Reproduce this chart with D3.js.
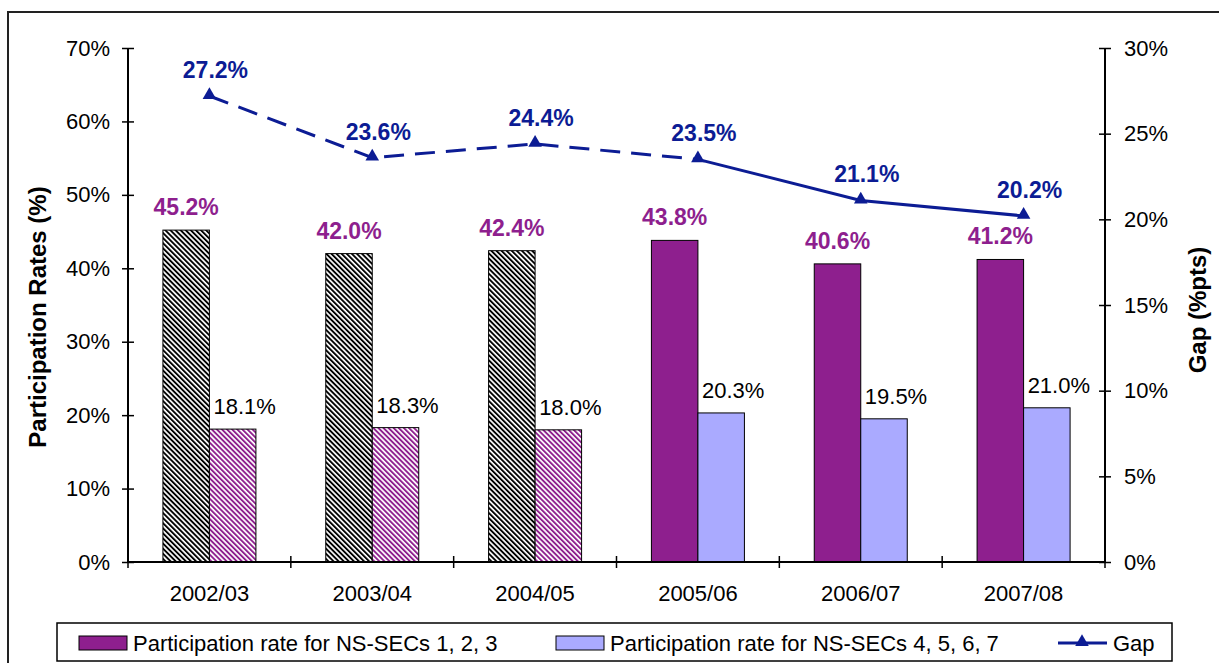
<!DOCTYPE html>
<html><head><meta charset="utf-8">
<script src="https://cdn.jsdelivr.net/npm/d3@7"></script>
<style>
html,body{margin:0;padding:0;background:#fff;}
svg{display:block;font-family:"Liberation Sans",Arial,sans-serif;}
</style></head>
<body>
<svg id="chart" width="1219" height="663"></svg>
<script>
// ---- data ----
const categories = ["2002/03","2003/04","2004/05","2005/06","2006/07","2007/08"];
const seriesHigh = [45.2, 42.0, 42.4, 43.8, 40.6, 41.2];   // NS-SECs 1,2,3
const seriesLow  = [18.1, 18.3, 18.0, 20.3, 19.5, 21.0];   // NS-SECs 4,5,6,7
const seriesGap  = [27.2, 23.6, 24.4, 23.5, 21.1, 20.2];   // Gap (%pts)
const leftTicks  = [0,10,20,30,40,50,60,70];
const rightTicks = [0,5,10,15,20,25,30];
const legendLabels = ["Participation rate for NS-SECs 1, 2, 3","Participation rate for NS-SECs 4, 5, 6, 7","Gap"];

// ---- layout ----
const purple = "#8e1f8e", lightBlue = "#aaaaff", navy = "#0c1c94";
const hatchedCount = 3;   // first three years drawn hatched
const dashedUntil = 3;    // gap line dashed up to this index
const FS = 22, FSB = 23;
const svg = d3.select("#chart");
const L = 128, R = 1105, T = 48, B = 562;

const defs = svg.append("defs");
function stripe(id, color){
  const p = defs.append("pattern").attr("id", id).attr("patternUnits","userSpaceOnUse")
    .attr("width", 3.6).attr("height", 3.6).attr("patternTransform","rotate(-45)");
  p.append("rect").attr("width",3.6).attr("height",3.6).attr("fill","#fff");
  p.append("rect").attr("width",1.9).attr("height",3.6).attr("fill",color);
}
stripe("hatchBlack","#000");
stripe("hatchPurple", purple);

// outer frame
svg.append("rect").attr("x",8).attr("y",12).attr("width",1230).attr("height",700)
  .attr("fill","none").attr("stroke","#222").attr("stroke-width",2);

const x = d3.scaleBand().domain(categories).range([L,R]);
const barW = 46.5;
const inner = d3.scaleBand().domain(["high","low"]).range([-barW, barW]);
const yL = d3.scaleLinear().domain([0,70]).range([B,T]);
const yR = d3.scaleLinear().domain([0,30]).range([B,T]);

// bars
const g = svg.append("g");
categories.forEach((c,i)=>{
  const cx = x(c) + x.bandwidth()/2;
  const hatched = i < hatchedCount;
  g.append("rect").attr("x", cx + inner("high")).attr("y", yL(seriesHigh[i]))
    .attr("width", inner.bandwidth()).attr("height", yL(0)-yL(seriesHigh[i]))
    .attr("fill", hatched ? "url(#hatchBlack)" : purple).attr("stroke","#000").attr("stroke-width",1);
  g.append("rect").attr("x", cx + inner("low")).attr("y", yL(seriesLow[i]))
    .attr("width", inner.bandwidth()).attr("height", yL(0)-yL(seriesLow[i]))
    .attr("fill", hatched ? "url(#hatchPurple)" : lightBlue).attr("stroke","#000").attr("stroke-width",1);
  // labels
  g.append("text").attr("x", cx + inner("high") + inner.bandwidth()/2).attr("y", yL(seriesHigh[i]) - 15)
    .attr("text-anchor","middle").attr("font-size",FSB).attr("font-weight","bold").attr("fill",purple)
    .text(seriesHigh[i].toFixed(1)+"%");
  g.append("text").attr("x", cx + inner("low") + inner.bandwidth()/2 + 12).attr("y", yL(seriesLow[i]) - 15)
    .attr("text-anchor","middle").attr("font-size",FS).attr("fill","#000")
    .text(seriesLow[i].toFixed(1)+"%");
});

// left axis
const axL = d3.axisLeft(yL).tickValues(leftTicks).tickFormat(d=>d+"%").tickSize(6).tickPadding(12);
const gL = svg.append("g").attr("transform",`translate(${L},0)`).call(axL);
gL.select(".domain").attr("d",`M0,${T}V${B}`).attr("stroke","#000").attr("stroke-width",2);
gL.selectAll(".tick line").attr("x1",-6).attr("x2",6).attr("stroke","#000").attr("stroke-width",1.5);
gL.selectAll(".tick text").attr("font-size",FS).attr("font-family","Liberation Sans, Arial").attr("fill","#000");

// right axis
const axR = d3.axisRight(yR).tickValues(rightTicks).tickFormat(d=>d+"%").tickSize(6).tickPadding(13);
const gR = svg.append("g").attr("transform",`translate(${R},0)`).call(axR);
gR.select(".domain").attr("d",`M0,${T}V${B}`).attr("stroke","#000").attr("stroke-width",2);
gR.selectAll(".tick line").attr("x1",-6).attr("x2",6).attr("stroke","#000").attr("stroke-width",1.5);
gR.selectAll(".tick text").attr("font-size",FS).attr("font-family","Liberation Sans, Arial").attr("fill","#000");

// x axis
svg.append("line").attr("x1",L).attr("x2",R).attr("y1",B).attr("y2",B).attr("stroke","#000").attr("stroke-width",2);
const bounds = categories.map(c=>x(c)).concat([R]);
svg.selectAll(".xt").data(bounds).enter().append("line")
  .attr("x1",d=>d).attr("x2",d=>d).attr("y1",B-6).attr("y2",B+6).attr("stroke","#000").attr("stroke-width",1.5);
svg.selectAll(".xl").data(categories).enter().append("text")
  .attr("x",d=>x(d)+x.bandwidth()/2).attr("y",B+39).attr("text-anchor","middle")
  .attr("font-size",FS).text(d=>d);

// gap line
const pts = seriesGap.map((v,i)=>[x(categories[i])+x.bandwidth()/2, yR(v)]);
const line = d3.line();
svg.append("path").attr("d", line(pts.slice(0,dashedUntil+1))).attr("fill","none")
  .attr("stroke",navy).attr("stroke-width",3).attr("stroke-dasharray","20,11");
svg.append("path").attr("d", line(pts.slice(dashedUntil))).attr("fill","none")
  .attr("stroke",navy).attr("stroke-width",3);
const tri = d3.symbol().type(d3.symbolTriangle).size(80);
svg.selectAll(".mk").data(pts).enter().append("path")
  .attr("d",tri).attr("transform",d=>`translate(${d[0]},${d[1]-1})`).attr("fill",navy);
svg.selectAll(".gl").data(seriesGap).enter().append("text")
  .attr("x",(d,i)=>pts[i][0]+6).attr("y",(d,i)=>pts[i][1]-18).attr("text-anchor","middle")
  .attr("font-size",FSB).attr("font-weight","bold").attr("fill",navy).text(d=>d.toFixed(1)+"%");

// axis titles
svg.append("text").attr("transform",`translate(46,${(T+B)/2 + 12}) rotate(-90)`).attr("text-anchor","middle")
  .attr("font-size",24).attr("font-weight","bold").text("Participation Rates (%)");
svg.append("text").attr("transform",`translate(1206,${(T+B)/2 + 5}) rotate(-90)`).attr("text-anchor","middle")
  .attr("font-size",24).attr("font-weight","bold").text("Gap (%pts)");

// legend
const lg = svg.append("g");
lg.append("rect").attr("x",57).attr("y",623).attr("width",1115).attr("height",38)
  .attr("fill","#fff").attr("stroke","#000").attr("stroke-width",1.5);
lg.append("rect").attr("x",79).attr("y",636).attr("width",48).attr("height",14).attr("fill",purple).attr("stroke","#000");
lg.append("text").attr("x",133).attr("y",651).attr("font-size",FS).text(legendLabels[0]);
lg.append("rect").attr("x",556).attr("y",636).attr("width",48).attr("height",14).attr("fill",lightBlue).attr("stroke","#000");
lg.append("text").attr("x",610).attr("y",651).attr("font-size",FS).text(legendLabels[1]);
lg.append("line").attr("x1",1058).attr("x2",1107).attr("y1",643).attr("y2",643).attr("stroke",navy).attr("stroke-width",3);
lg.append("path").attr("d",tri).attr("transform","translate(1082,642)").attr("fill",navy);
lg.append("text").attr("x",1113).attr("y",651).attr("font-size",FS).text(legendLabels[2]);
</script>
</body></html>
